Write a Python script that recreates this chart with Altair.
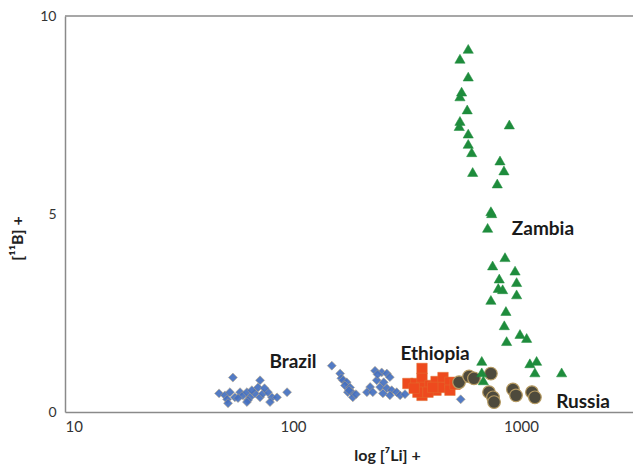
import altair as alt
import pandas as pd

# ---- data ----
brazil_li = [54.5, 47.4, 50.3, 52.9, 55.6, 58.6, 60.3, 62.8, 64.8, 68.1, 70.2, 71.7, 73.9, 77.7,
             80.9, 85.1, 94.2, 51.4, 57.4, 63.5, 51.9, 62.8, 79.3, 71.7, 66.0, 75.0,
             148, 161, 163, 166, 172, 169, 178, 174, 181, 183, 189, 176,
             229, 245, 258, 266, 233, 218, 211, 241, 258, 271, 285, 295, 224, 266, 248, 310, 235, 250,
             544]
brazil_b = [0.87, 0.47, 0.42, 0.50, 0.37, 0.50, 0.42, 0.50, 0.37, 0.47, 0.62, 0.37, 0.47, 0.50,
            0.37, 0.37, 0.50, 0.32, 0.35, 0.30, 0.22, 0.25, 0.25, 0.80, 0.55, 0.60,
            1.17, 0.97, 0.85, 0.80, 0.75, 0.67, 0.62, 0.50, 0.50, 0.37, 0.45, 0.55,
            1.04, 1.00, 0.97, 0.88, 0.80, 0.63, 0.50, 0.63, 0.60, 0.55, 0.50, 0.42, 0.50, 0.42, 0.47, 0.45, 0.95, 0.75,
            0.32]

ethiopia_li = [319, 346, 368, 368, 368, 368, 399, 424, 424, 455, 455, 488, 488, 514, 353, 391, 340, 410]
ethiopia_b = [0.72, 0.72, 1.10, 0.85, 0.62, 0.42, 0.67, 0.77, 0.55, 0.87, 0.62, 0.75, 0.55, 0.70, 0.50, 0.50, 0.60, 0.62]

zambia_li = [587, 540, 587, 549, 540, 581, 540, 536, 587, 587, 608, 614, 889, 809, 842, 787, 738, 744,
             714, 851, 751, 942, 803, 957, 795, 831, 957, 738, 859, 845, 990, 1059, 865, 673, 1094,
             1171, 1151, 673, 684, 1508]
zambia_b = [9.17, 8.92, 8.47, 8.09, 7.97, 7.64, 7.35, 7.22, 7.03, 6.77, 6.56, 6.06, 7.26, 6.35, 6.10, 5.77, 5.07, 5.02,
            4.65, 3.91, 3.70, 3.57, 3.37, 3.28, 3.13, 3.10, 2.97, 2.83, 2.55, 2.19, 1.97, 1.87, 1.79, 1.29, 1.23,
            1.29, 1.00, 1.00, 0.80, 1.00]

russia_li = [535, 592, 622, 738, 724, 754, 762, 922, 951, 1117, 1151]
russia_b = [0.75, 0.90, 0.85, 0.97, 0.50, 0.37, 0.25, 0.57, 0.42, 0.50, 0.37]

label_text = ["Brazil", "Ethiopia", "Zambia", "Russia"]
label_li = [100, 420, 1248, 1871]
label_b = [1.27, 1.47, 4.63, 0.25]

x_ticks = [10, 100, 1000]
y_ticks = [0, 5, 10]

FONT = "Lato"

xscale = alt.Scale(type="log", domain=[10, 3100], nice=False)
yscale = alt.Scale(domain=[0, 10], nice=False)

xaxis = alt.Axis(values=x_ticks, format="d", title="log [\u2077Li] +", grid=False, ticks=False,
                 domainColor="#8a8a8a", domainWidth=1.5, labelFont=FONT, labelFontSize=15,
                 labelColor="#333333", labelPadding=7, titleFont=FONT, titleFontSize=16,
                 titleFontWeight="bold", titleColor="#222222", titleX=322, titleY=35)
yaxis = alt.Axis(values=y_ticks, title="[\u00b9\u00b9B] +", grid=False, ticks=False,
                 domainColor="#8a8a8a", domainWidth=1.5, labelFont=FONT, labelFontSize=14,
                 labelColor="#333333", labelPadding=9, titleFont=FONT, titleFontSize=16,
                 titleFontWeight="bold", titleColor="#222222", titleX=-40, titleY=222)

def df(xs, ys):
    return pd.DataFrame({"li": xs, "b": ys})

def enc(ch):
    return ch.encode(x=alt.X("li:Q", scale=xscale, axis=xaxis),
                     y=alt.Y("b:Q", scale=yscale, axis=yaxis))

brazil = enc(alt.Chart(df(brazil_li, brazil_b)).mark_point(
    shape="diamond", filled=True, size=80, fill="#4570c0", stroke="#b0a080",
    strokeWidth=0.6, opacity=0.92))
ethiopia = enc(alt.Chart(df(ethiopia_li, ethiopia_b)).mark_point(
    shape="square", filled=True, size=110, fill="#ee4a1e", stroke="#e07030",
    strokeWidth=0.5, opacity=1))
russia = enc(alt.Chart(df(russia_li, russia_b)).mark_point(
    shape="circle", filled=True, size=160, fill="#4e4a3c", stroke="#b59a62",
    strokeWidth=1.2, opacity=1))
zambia = enc(alt.Chart(df(zambia_li, zambia_b)).mark_point(
    shape="triangle-up", filled=True, size=105, fill="#1e8c3c", stroke="#1e8c3c",
    strokeWidth=0.5, opacity=1))

labels = enc(alt.Chart(pd.DataFrame({"li": label_li, "b": label_b, "t": label_text})).mark_text(
    font=FONT, fontSize=19, fontWeight="bold", color="#1a1a1a", align="center",
    baseline="middle")).encode(text="t:N")

top_line = alt.Chart(pd.DataFrame({"b": [10]})).mark_rule(color="#8a8a8a", strokeWidth=1.5).encode(
    y=alt.Y("b:Q", scale=yscale, axis=yaxis))

chart = alt.layer(top_line, brazil, ethiopia, russia, zambia, labels).properties(
    width=568, height=396,
    autosize=alt.AutoSizeParams(type="none"),
    padding={"left": 57, "top": 8, "right": 0, "bottom": 52},
    background="white",
).configure_view(stroke=None)

chart.save("out.html", embed_options={"renderer": "svg", "actions": False})
